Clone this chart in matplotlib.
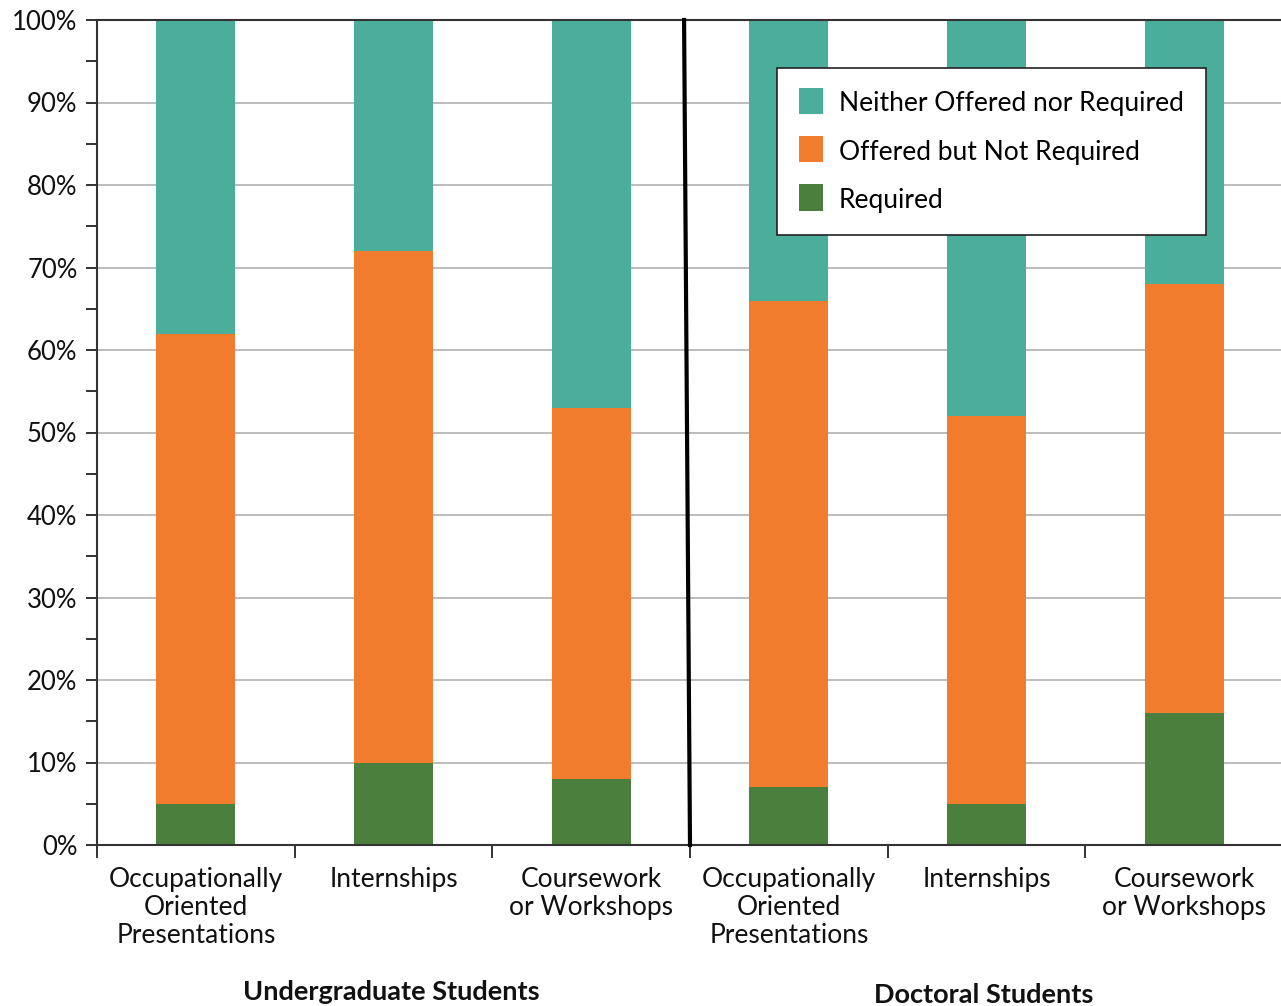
import matplotlib.pyplot as plt
import numpy as np
from matplotlib.ticker import MultipleLocator, FixedLocator

plt.rcParams['font.family'] = ['Lato', 'DejaVu Sans']

categories = ['Occupationally\nOriented\nPresentations', 'Internships', 'Coursework\nor Workshops',
              'Occupationally\nOriented\nPresentations', 'Internships', 'Coursework\nor Workshops']
groups = ['Undergraduate Students', 'Doctoral Students']
required = [5, 10, 8, 7, 5, 16]
offered = [57, 62, 45, 59, 47, 52]
neither = [38, 28, 47, 34, 48, 32]

c_req = '#4a7f3e'
c_off = '#f27c2e'
c_nei = '#4aae9b'

W, H = 1281, 1006
fig = plt.figure(figsize=(W / 100, H / 100), dpi=100)
ax = fig.add_axes([97 / W, (H - 845) / H, (1283 - 97) / W, (845 - 20) / H])

x = np.arange(len(categories))
req = np.array(required)
off = np.array(offered)
nei = np.array(neither)
bw = 0.4
ax.bar(x, req, bw, color=c_req, label='Required', zorder=2)
ax.bar(x, off, bw, bottom=req, color=c_off, label='Offered but Not Required', zorder=2)
ax.bar(x, nei, bw, bottom=req + off, color=c_nei, label='Neither Offered nor Required', zorder=2)

ax.set_xlim(-0.5, len(categories) - 0.5)
ax.set_ylim(0, 100)

ax.set_yticks(np.arange(0, 101, 10))
ax.yaxis.set_minor_locator(MultipleLocator(5))
ax.set_yticklabels([f'{v}%' for v in range(0, 101, 10)], fontsize=18.5, color='#111111')
ax.grid(axis='y', color='#aaaaaa', linewidth=1.1, zorder=0)
ax.tick_params(axis='y', which='both', length=8, width=1.3, color='#222222', pad=6)

# category labels sit at bar centres, ticks mark the boundaries
ax.set_xticks(x)
ax.set_xticklabels(categories, fontsize=19, color='#111111', linespacing=1.15)
ax.tick_params(axis='x', which='major', length=0, pad=16)
ax.xaxis.set_minor_locator(FixedLocator(np.arange(-0.5, len(categories), 1.0)))
ax.tick_params(axis='x', which='minor', length=9, width=1.3, color='#222222')

for s in ['left', 'bottom', 'top']:
    ax.spines[s].set_color('#333333')
    ax.spines[s].set_linewidth(1.5)
ax.spines['right'].set_visible(False)

# divider between undergraduate and doctoral groups
ax.plot([2.5, 2.47], [0, 100], color='black', linewidth=3, zorder=3, clip_on=False)

handles, labels = ax.get_legend_handles_labels()
leg = ax.legend(handles[::-1], labels[::-1], loc='upper left',
                bbox_to_anchor=((777 - 97) / (1283 - 97), 1 - (68 - 20) / 825),
                fontsize=19, frameon=True, fancybox=False, edgecolor='#222222',
                framealpha=1, handlelength=0.9, handleheight=1.0, handletextpad=0.6,
                labelspacing=0.85, borderpad=0.85, borderaxespad=0)
leg.get_frame().set_linewidth(1.2)
leg.set_zorder(5)
for p in leg.get_patches():
    p.set_height(p.get_height() * 1.12)

fig.text(391 / W, 1 - 992 / H, groups[0], ha='center', va='center',
         fontsize=19.5, fontweight='bold', color='#111111')
fig.text(984 / W, 1 - 995 / H, groups[1], ha='center', va='center',
         fontsize=19.5, fontweight='bold', color='#111111')

fig.savefig('out.png', dpi=100)
